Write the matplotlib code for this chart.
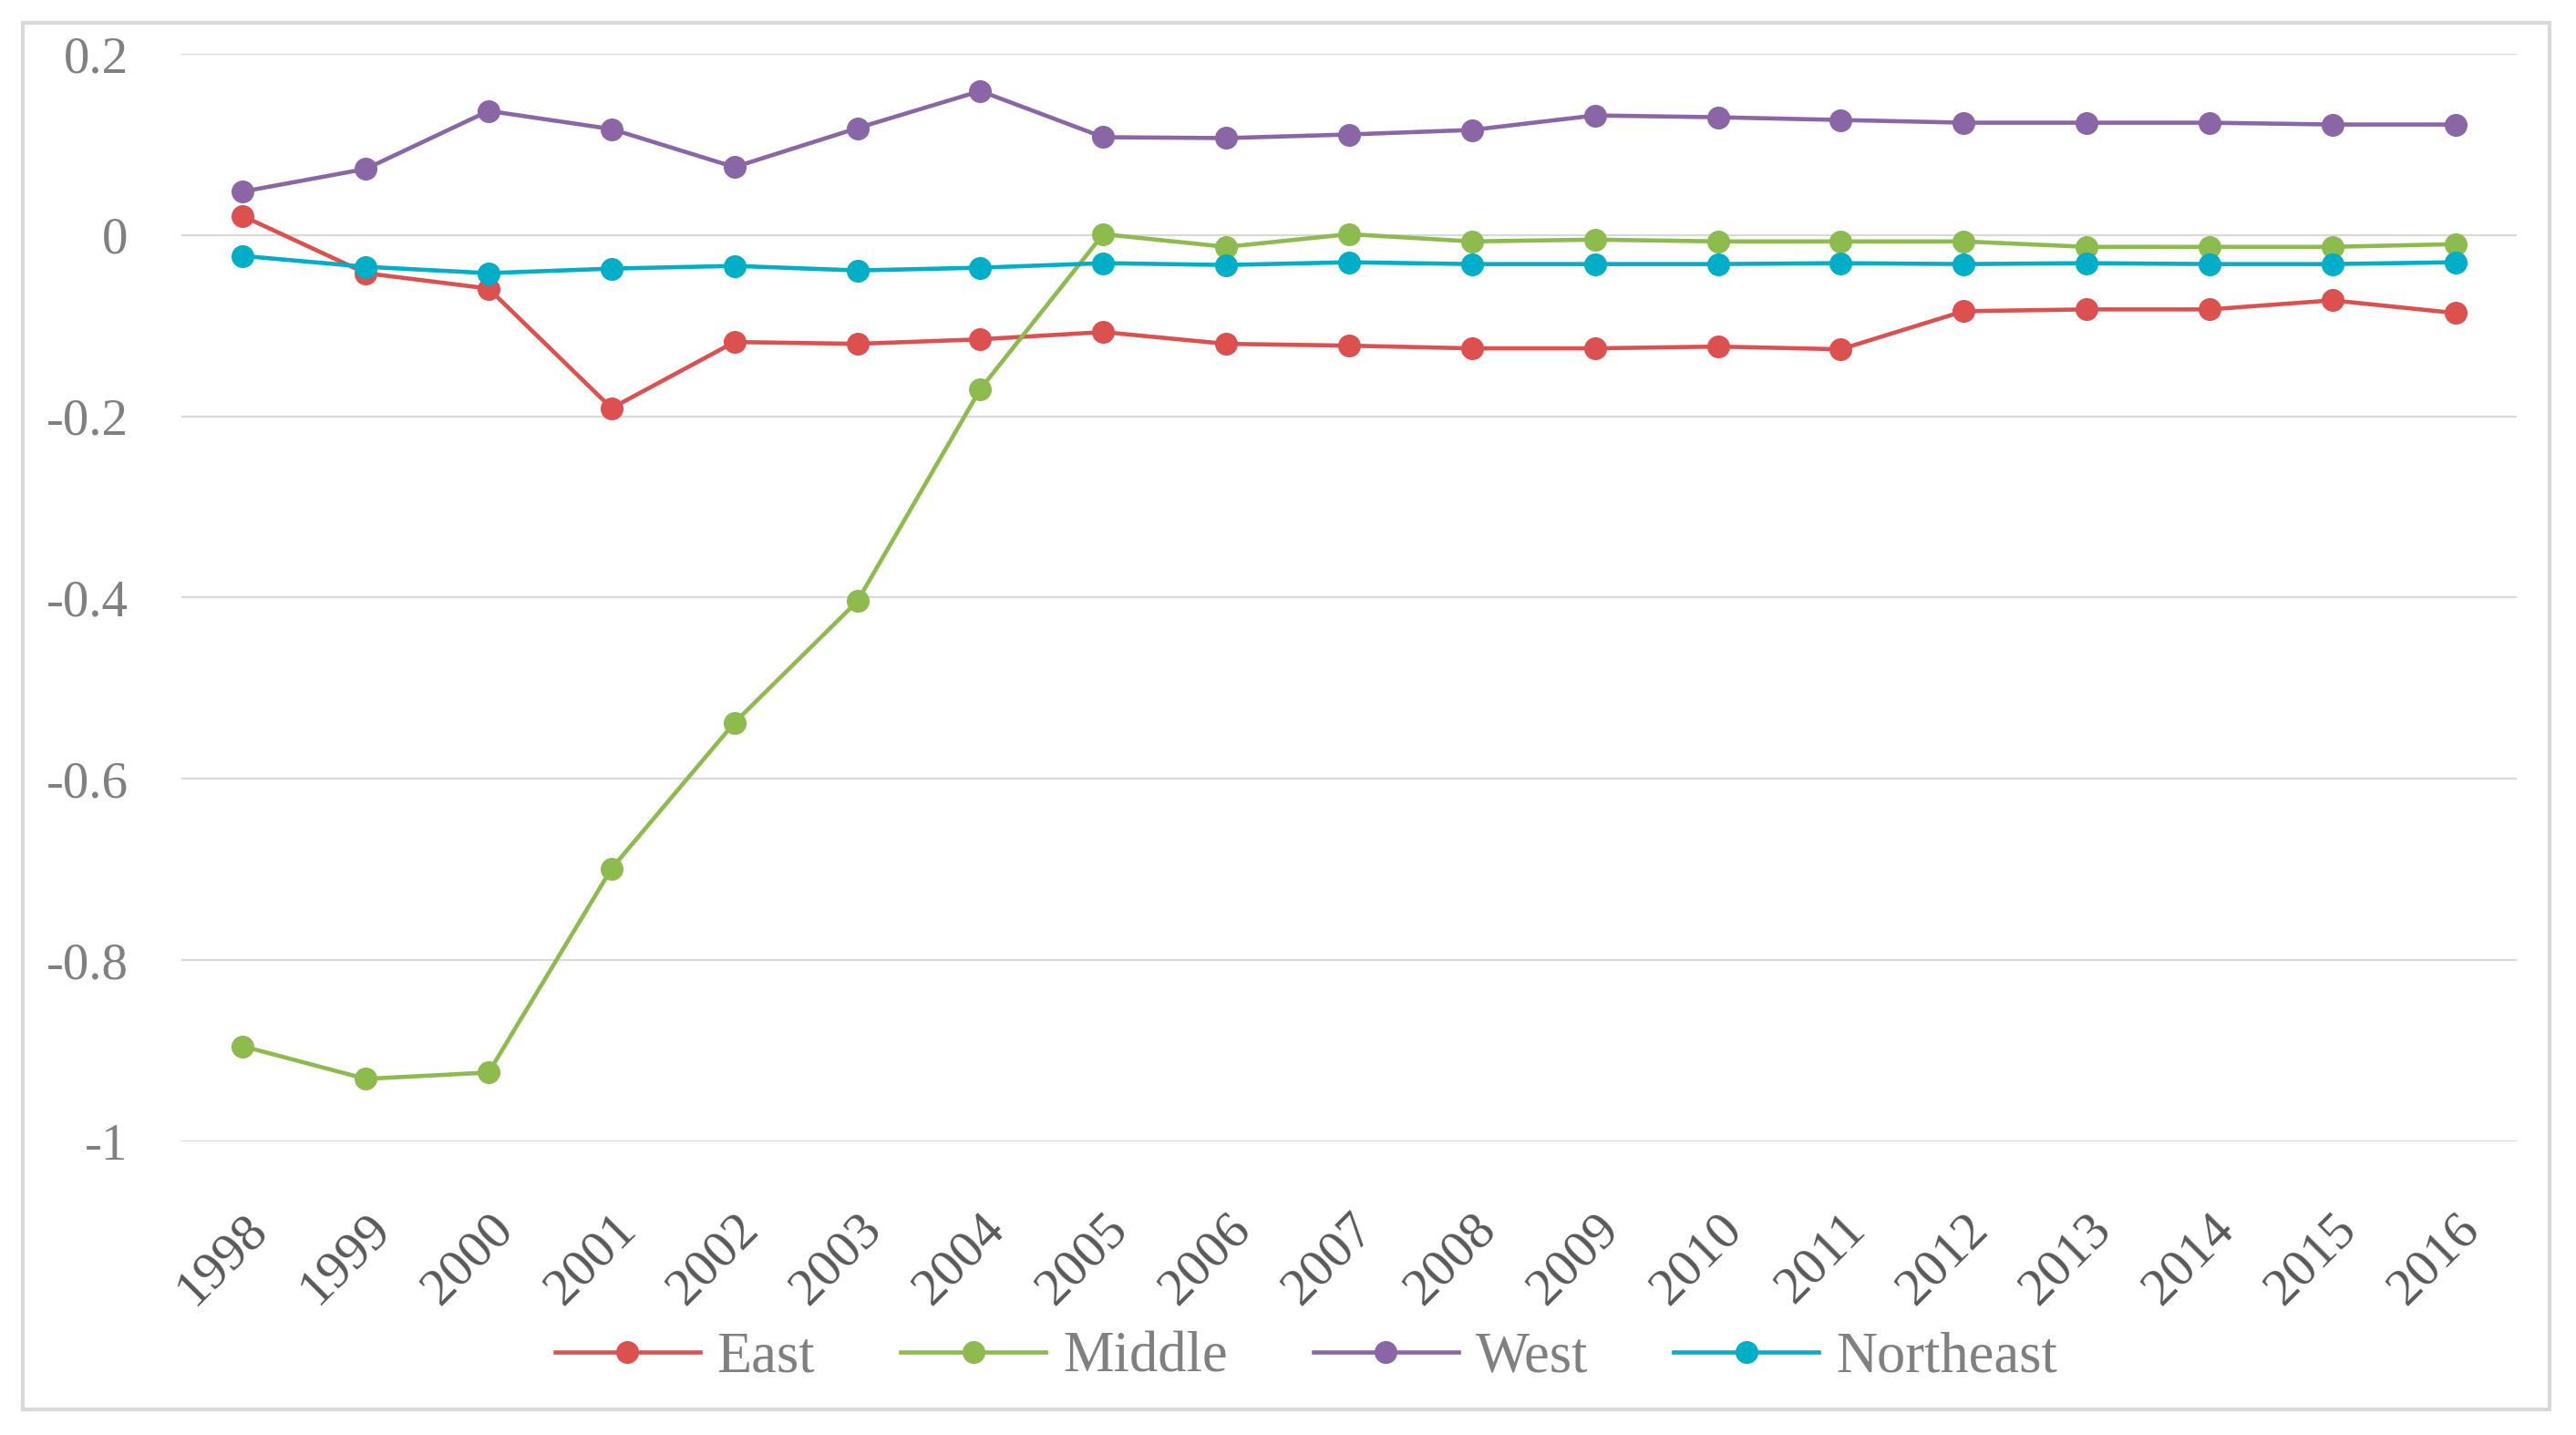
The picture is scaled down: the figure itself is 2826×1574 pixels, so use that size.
import matplotlib
matplotlib.use('Agg')
import matplotlib.pyplot as plt
from matplotlib.patches import Rectangle

# data
years = [str(y) for y in range(1998, 2017)]
east = [0.021, -0.042, -0.059, -0.191, -0.118, -0.120, -0.115, -0.107, -0.120, -0.122,
        -0.125, -0.125, -0.123, -0.126, -0.084, -0.082, -0.082, -0.072, -0.086]
middle = [-0.895, -0.931, -0.924, -0.699, -0.538, -0.404, -0.170, 0.001, -0.013, 0.001,
          -0.007, -0.005, -0.007, -0.007, -0.007, -0.013, -0.013, -0.013, -0.010]
west = [0.048, 0.073, 0.137, 0.117, 0.075, 0.118, 0.159, 0.108, 0.107, 0.111,
        0.116, 0.132, 0.130, 0.127, 0.124, 0.124, 0.124, 0.122, 0.122]
northeast = [-0.023, -0.035, -0.042, -0.037, -0.034, -0.039, -0.036, -0.031, -0.033, -0.030,
             -0.032, -0.032, -0.032, -0.031, -0.032, -0.031, -0.032, -0.032, -0.030]
series_names = ['East', 'Middle', 'West', 'Northeast']
colors = ['#DD5050', '#8DBB4E', '#8A66A7', '#00AEC7']
ytick_vals = [0.2, 0, -0.2, -0.4, -0.6, -0.8, -1]
ytick_labels = ['0.2', '0', '-0.2', '-0.4', '-0.6', '-0.8', '-1']

plt.rcParams['font.family'] = ['Liberation Serif', 'DejaVu Serif']

fig = plt.figure(figsize=(28.26, 15.74), dpi=100)
ax = fig.add_axes([0.0704, 0.2046, 0.9066, 0.7579])

x = list(range(len(years)))
for name, vals, c in zip(series_names, [east, middle, west, northeast], colors):
    ax.plot(x, vals, color=c, lw=3.3, marker='o', ms=17, label=name)

ax.set_xlim(-0.5, len(years) - 0.5)
ax.set_ylim(-1, 0.2)
ax.set_yticks(ytick_vals)
ax.set_yticklabels(ytick_labels)
ax.set_xticks(x)
ax.set_xticklabels(years, rotation=45, ha='right', rotation_mode='anchor')
ax.tick_params(axis='y', length=0, pad=42, labelsize=41, labelcolor='#808080')
ax.tick_params(axis='x', length=0, pad=50, labelsize=42, labelcolor='#595959')
ax.grid(axis='y', color='#D9D9D9', lw=1.6)
ax.set_axisbelow(True)
for s in ax.spines.values():
    s.set_visible(False)

leg = fig.legend(loc='center', bbox_to_anchor=(0.507, 0.0535), ncol=4, frameon=False,
                 fontsize=45, handlelength=2.55, columnspacing=1.5, handletextpad=0.3)
for t in leg.get_texts():
    t.set_color('#808080')

# outer chart border
fig.patches.append(Rectangle((25 / 2826, 28 / 1574), 2772 / 2826, 1521 / 1574,
                             transform=fig.transFigure, fill=False,
                             edgecolor='#D9D9D9', lw=3, zorder=0))

fig.savefig('out.png', dpi=100)
